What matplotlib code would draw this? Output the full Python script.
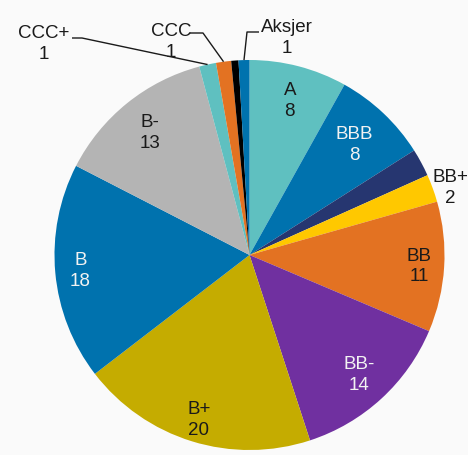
import numpy as np
import matplotlib
matplotlib.use('Agg')
import matplotlib.pyplot as plt

# slices clockwise from 12 o'clock
categories = ['A', 'BBB', '', 'BB+', 'BB', 'BB-', 'B+', 'B', 'B-', 'CCC+', 'CCC', '', 'Aksjer']
values = [8.1, 7.9, 2.3, 2.3, 10.8, 13.6, 19.6, 18.0, 13.3, 1.4, 1.25, 0.6, 0.9]
colors = ['#5fc0c0', '#0072ae', '#263670', '#ffc800', '#e37222', '#7030a0',
          '#c5ac00', '#0072ae', '#b4b4b4', '#5fc0c0', '#e37222', '#000000', '#0072ae']
text_colors = ['#1a1a1a', '#f2f2f2', '#1a1a1a', '#1a1a1a', '#1a1a1a', '#f2f2f2',
               '#1a1a1a', '#f2f2f2', '#1a1a1a', '#1a1a1a', '#1a1a1a', '#1a1a1a', '#1a1a1a']

plt.rcParams['font.family'] = ['Liberation Sans', 'DejaVu Sans']
fs = 13.5
ls = 1.3

W, H = 468, 456
fig = plt.figure(figsize=(W / 100, H / 100), dpi=100, facecolor='#fafafa')
ax = fig.add_axes([0, 0, 1, 1])
ax.set_facecolor('#fafafa')

cx, cy, R = 249.5, H - 256, 195
wedges, _ = ax.pie(values, colors=colors, startangle=90, counterclock=False,
                   radius=R, center=(cx, cy), wedgeprops=dict(linewidth=0))
ax.set_xlim(0, W)
ax.set_ylim(0, H)
ax.set_aspect('equal')
ax.axis('off')


def mid_point(i, r):
    w = wedges[i]
    a = np.deg2rad((w.theta1 + w.theta2) / 2)
    return cx + r * np.cos(a), cy + r * np.sin(a)


# labels inside the slices (radius factor per slice)
inside = {'A': 0.82, 'BBB': 0.78, 'BB': 0.87, 'BB-': 0.83, 'B+': 0.88, 'B': 0.87, 'B-': 0.81}
for i, name in enumerate(categories):
    if name in inside:
        x, y = mid_point(i, R * inside[name])
        ax.text(x, y, f'{name}\n{values[i]:.0f}', ha='center', va='center',
                fontsize=fs, color=text_colors[i], linespacing=ls)

# BB+ outside, no leader
i = categories.index('BB+')
ax.text(450, H - 188, f'BB+\n{values[i]:.0f}', ha='center', va='center', fontsize=fs,
        color='#1a1a1a', linespacing=ls)

# small slices with leader lines: (text center, elbow, line end)
leaders = {
    'CCC+': ((44, 44), (82, 39), (72, 39)),
    'CCC': ((171, 42), (203, 34), (190, 34)),
    'Aksjer': ((287, 38), (247, 33), (259, 33)),
}
for name, (tpos, elbow, end) in leaders.items():
    i = categories.index(name)
    ax_, ay_ = mid_point(i, R)
    ax.plot([ax_, elbow[0], end[0]], [ay_, H - elbow[1], H - end[1]],
            color='#1a1a1a', lw=1.0, solid_capstyle='butt')
    ax.text(tpos[0], H - tpos[1], f'{name}\n{values[i]:.0f}', ha='center', va='center',
            fontsize=fs, color='#1a1a1a', linespacing=ls)

fig.savefig('out.png', dpi=100, facecolor=fig.get_facecolor())
